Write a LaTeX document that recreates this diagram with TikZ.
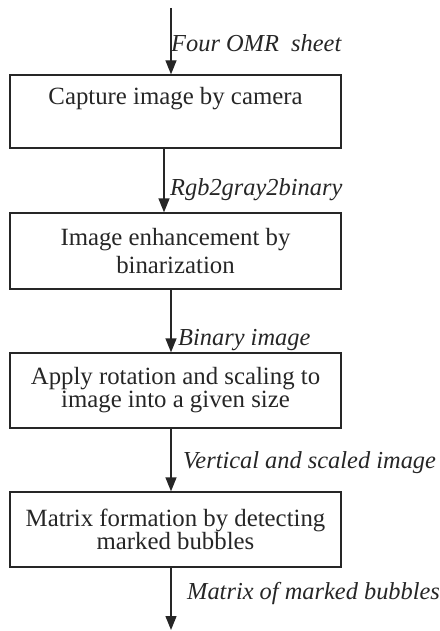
\documentclass[tikz,border=0pt]{standalone}
\usepackage{fontspec}
\setmainfont{Liberation Serif}
\usetikzlibrary{arrows.meta}
\definecolor{ink}{HTML}{262626}
\begin{document}
\begin{tikzpicture}[x=1pt,y=-1pt,
  box/.style={draw=ink,line width=1.3pt,minimum width=331pt,inner sep=0pt},
  boxtext/.style={text=ink,font=\fontsize{24.8}{23}\selectfont,align=center,inner sep=0pt},
  lbl/.style={text=ink,font=\fontsize{24.4}{26}\selectfont\itshape,anchor=west,inner sep=0pt},
  arr/.style={draw=ink,line width=1.3pt,-{Triangle[length=14pt,width=11pt]}}]
\useasboundingbox (0,0) rectangle (439,631);
\node[box,minimum height=73pt] (b1) at (175.5,111.5) {};
\node[box,minimum height=76pt] (b2) at (175.5,251) {};
\node[box,minimum height=75pt] (b3) at (175.5,390.5) {};
\node[box,minimum height=75pt] (b4) at (175.5,529.5) {};
\node[boxtext] (t1) at (175.5,98.5) {Capture image by camera};
\node[boxtext,font=\fontsize{24.8}{28}\selectfont] (t2) at (b2.center) {Image enhancement by\\binarization};
\node[boxtext] (t3) at (b3.center) {Apply rotation and scaling to\\image into a given size};
\node[boxtext] (t4) at (b4.center) {Matrix formation by detecting\\marked bubbles};
\coordinate (start) at (171,8);
\coordinate (end) at (171,630);
\draw[arr] (start) -- (start |- b1.north);
\draw[arr] ([xshift=-11.5pt]b1.south) -- ([xshift=-11.5pt]b2.north);
\draw[arr] ([xshift=-4.5pt]b2.south) -- ([xshift=-4.5pt]b3.north);
\draw[arr] ([xshift=-4.5pt]b3.south) -- ([xshift=-4.5pt]b4.north);
\draw[arr] ([xshift=-4.5pt]b4.south) -- (end);
\node[lbl] (l1) at (171,43) {Four OMR\enspace sheet};
\node[lbl] (l2) at (170,190) {Rgb2gray2binary};
\node[lbl] (l3) at (178,340) {Binary image};
\node[lbl] (l4) at (183,463) {Vertical and scaled image};
\node[lbl] (l5) at (187,593) {Matrix of marked bubbles};
\end{tikzpicture}
\end{document}
